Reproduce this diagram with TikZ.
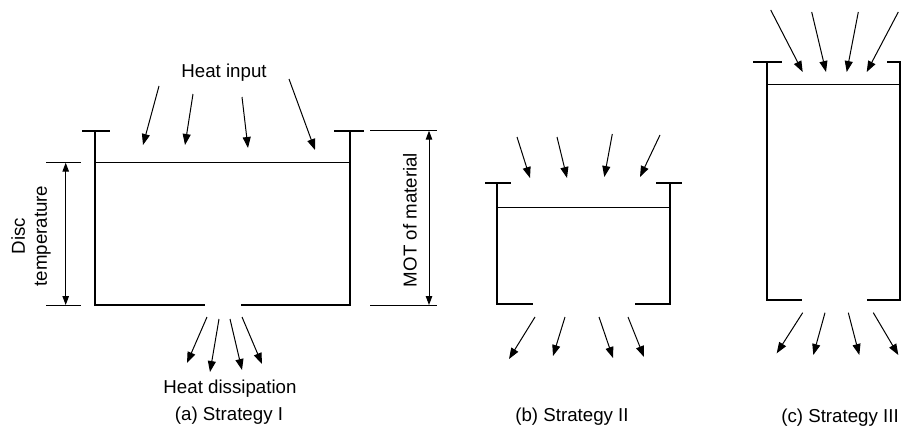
\documentclass[tikz,border=0pt]{standalone}
\usepackage{fontspec}
\setmainfont{Liberation Sans}
\usetikzlibrary{arrows.meta}
\tikzset{
  wall/.style={line width=2pt, line cap=rect},
  liquid/.style={line width=1pt},
  flow/.style={line width=1pt, -{Triangle[length=11pt,width=8pt]}},
  dimline/.style={line width=1pt},
  dimarrow/.style={line width=1pt, {Triangle[length=9pt,width=6.5pt]}-{Triangle[length=9pt,width=6.5pt]}},
  lbl/.style={font=\fontsize{18.7}{22}\selectfont, inner sep=0pt, align=center}
}
\begin{document}
\begin{tikzpicture}[x=1pt,y=-1pt]
\useasboundingbox (0,0) rectangle (901,428);
\clip (0,0) rectangle (901,428);
% ---------- (a) ----------
\draw[wall] (83,130.7) -- (109,130.7);
\draw[wall] (335,130.7) -- (362.7,130.7);
\draw[wall] (95,130.7) -- (95,305) -- (204,305);
\draw[wall] (241.7,305) -- (350,305) -- (350,130.7);
\draw[liquid] (95,162.7) -- (350,162.7);
% dimension: disc temperature
\coordinate (dt1) at (65.7,162.7);
\coordinate (dt2) at (65.7,305);
\draw[dimline] (46,162.7) -- (81,162.7);
\draw[dimline] (46,305) -- (81,305);
\draw[dimarrow] (dt1) -- (dt2);
\node[lbl, rotate=90] (disc) at (31,236) {Disc\\temperature};
% dimension: MOT
\coordinate (m1) at (429,130.7);
\coordinate (m2) at (429,305);
\draw[dimline] (370,130.7) -- (437,130.7);
\draw[dimline] (370,305) -- (437,305);
\draw[dimarrow] (m1) -- (m2);
\node[lbl, rotate=90] (mot) at (410,220) {MOT of material};
% heat input arrows
\node[lbl] (hin) at (224,73) {Heat input};
\coordinate (a1s) at (159,86); \coordinate (a1e) at (143,145);
\coordinate (a2s) at (193,94); \coordinate (a2e) at (185,145);
\coordinate (a3s) at (242,97); \coordinate (a3e) at (248,148);
\coordinate (a4s) at (289,79); \coordinate (a4e) at (315,150);
\foreach \i in {1,...,4} \draw[flow] (a\i s) -- (a\i e);
% heat dissipation arrows
\coordinate (b1s) at (207,317); \coordinate (b1e) at (187,363);
\coordinate (b2s) at (219,319); \coordinate (b2e) at (210,372);
\coordinate (b3s) at (230,319); \coordinate (b3e) at (242,370);
\coordinate (b4s) at (242,317); \coordinate (b4e) at (262,364);
\foreach \i in {1,...,4} \draw[flow] (b\i s) -- (b\i e);
\node[lbl] (hdis) at (230,389) {Heat dissipation};
\node[lbl] (capa) at (229,416) {(a) Strategy I};
% ---------- (b) ----------
\draw[wall] (486,182.5) -- (510,182.5);
\draw[wall] (657.3,182.5) -- (681,182.5);
\draw[wall] (496.7,182.5) -- (496.7,304) -- (531.5,304);
\draw[wall] (635.7,304) -- (669.5,304) -- (669.5,182.5);
\draw[liquid] (496.7,207) -- (669.5,207);
\coordinate (c1s) at (517,137); \coordinate (c1e) at (530,178);
\coordinate (c2s) at (557,137); \coordinate (c2e) at (567,178);
\coordinate (c3s) at (612.3,134); \coordinate (c3e) at (604.3,177);
\coordinate (c4s) at (660,135); \coordinate (c4e) at (640,177);
\foreach \i in {1,...,4} \draw[flow] (c\i s) -- (c\i e);
\coordinate (d1s) at (535,317); \coordinate (d1e) at (509,359);
\coordinate (d2s) at (565,317); \coordinate (d2e) at (553,356);
\coordinate (d3s) at (599,317); \coordinate (d3e) at (613,358);
\coordinate (d4s) at (628,317); \coordinate (d4e) at (644,357);
\foreach \i in {1,...,4} \draw[flow] (d\i s) -- (d\i e);
\node[lbl] (capb) at (572,417) {(b) Strategy II};
% ---------- (c) ----------
\draw[wall] (754,61.7) -- (781,61.7);
\draw[wall] (888.3,61.7) -- (905,61.7);
\draw[wall] (767.3,61.7) -- (767.3,300) -- (800.7,300);
\draw[wall] (868.3,300) -- (899.5,300) -- (899.5,61.7);
\draw[liquid] (767.3,84.7) -- (899.5,84.7);
\coordinate (e1s) at (770.7,10); \coordinate (e1e) at (802.7,72);
\coordinate (e2s) at (811.7,12); \coordinate (e2e) at (826,72);
\coordinate (e3s) at (858.3,12); \coordinate (e3e) at (846.7,72);
\coordinate (e4s) at (898.3,12); \coordinate (e4e) at (866.7,72);
\foreach \i in {1,...,4} \draw[flow] (e\i s) -- (e\i e);
\coordinate (f1s) at (802.7,312.7); \coordinate (f1e) at (776.7,353.3);
\coordinate (f2s) at (825,312.7); \coordinate (f2e) at (813.3,355);
\coordinate (f3s) at (848.3,312.7); \coordinate (f3e) at (859.3,355);
\coordinate (f4s) at (873.3,312.7); \coordinate (f4e) at (898.3,355);
\foreach \i in {1,...,4} \draw[flow] (f\i s) -- (f\i e);
\node[lbl] (capc) at (840,418) {(c) Strategy III};
\end{tikzpicture}
\end{document}
